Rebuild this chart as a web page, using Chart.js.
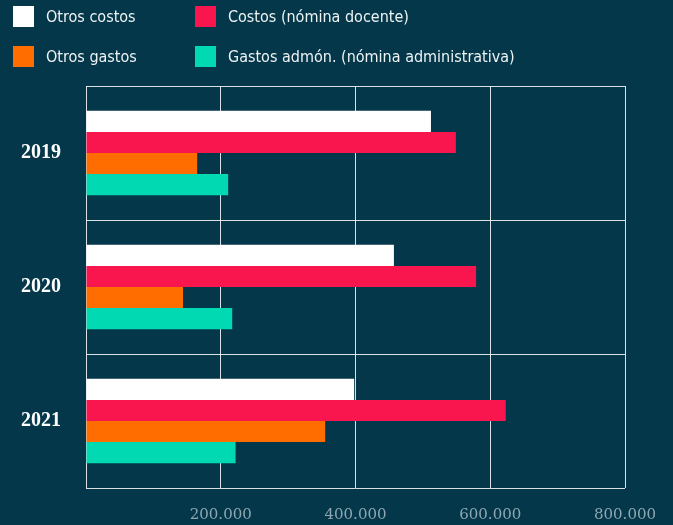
<!DOCTYPE html>
<html>
<head>
<meta charset="utf-8">
<script src="https://cdn.jsdelivr.net/npm/chart.js@4"></script>
<style>
  html, body { margin: 0; padding: 0; background: #04374a; }
  #wrap { position: relative; width: 673px; height: 525px; }
  #leyenda { position: absolute; left: 0; top: 0; width: 673px; height: 80px; }
  .item { position: absolute; display: flex; align-items: center; height: 21px; color: #eef3f4;
          font-family: "DejaVu Sans Condensed", Roboto, sans-serif; font-size: 16px; white-space: nowrap; }
  .item span.caja { display: inline-block; width: 21px; height: 21px; margin-right: 12px; }
</style>
</head>
<body>
<div id="wrap">
  <canvas id="myChart" width="673" height="525"></canvas>
  <div id="leyenda"></div>
</div>
<script>
const anios = ["2019", "2020", "2021"];
const series = ["Otros costos", "Costos (nómina docente)", "Otros gastos", "Gastos admón. (nómina administrativa)"];
const otrosCostos = [512000, 457000, 398000];
const costosDocente = [549000, 579000, 623000];
const otrosGastos = [165000, 144000, 355000];
const gastosAdmon = [211000, 217000, 222000];
const colores = ["#ffffff", "#f9164f", "#ff6c00", "#00d9b2"];
const ticksX = [200000, 400000, 600000, 800000];

// leyenda en dos columnas
const posLeyenda = [[13, 6], [195, 6], [13, 46], [195, 46]];
const leyenda = document.getElementById("leyenda");
series.forEach(function (nombre, i) {
  const d = document.createElement("div");
  d.className = "item";
  d.style.left = posLeyenda[i][0] + "px";
  d.style.top = posLeyenda[i][1] + "px";
  d.innerHTML = '<span class="caja" style="background:' + colores[i] + '"></span>' + nombre;
  leyenda.appendChild(d);
});

function formato(v) {
  return v.toString().replace(/\B(?=(\d{3})+(?!\d))/g, ".");
}

const valores = [otrosCostos, costosDocente, otrosGastos, gastosAdmon];
const ctx = document.getElementById("myChart");
const myChart = new Chart(ctx, {
  type: "bar",
  data: {
    labels: anios,
    datasets: series.map(function (nombre, i) {
      return {
        label: nombre,
        data: valores[i],
        backgroundColor: colores[i],
        borderWidth: 0,
        categoryPercentage: 0.63,
        barPercentage: 1,
      };
    }),
  },
  options: {
    indexAxis: "y",
    responsive: false,
    animation: false,
    layout: { padding: { top: 86, right: 48, left: 0, bottom: 0 } },
    plugins: { legend: { display: false }, tooltip: { enabled: false } },
    scales: {
      x: {
        min: 0,
        max: 800000,
        afterFit: function (s) { s.height = 36; s.paddingRight = 0; s.paddingLeft = 0; },
        afterBuildTicks: function (s) {
          s.ticks = [{ value: 0 }].concat(ticksX.map(function (v) { return { value: v }; }));
        },
        grid: { color: "rgba(255,255,255,0.85)", lineWidth: 1, drawTicks: false },
        border: { display: false },
        ticks: {
          color: "#8ea8b2",
          padding: 18,
          font: { family: "DejaVu Serif", size: 15 },
          callback: function (v) { return v === 0 ? "" : formato(v); },
        },
      },
      y: {
        afterFit: function (s) { s.width = 86; },
        grid: { color: "rgba(255,255,255,0.85)", lineWidth: 1, drawTicks: false, offset: true },
        border: { display: false },
        ticks: {
          color: "#ffffff",
          padding: 25,
          font: { family: "Liberation Serif", size: 20, weight: "bold" },
        },
      },
    },
  },
});
</script>
</body>
</html>
